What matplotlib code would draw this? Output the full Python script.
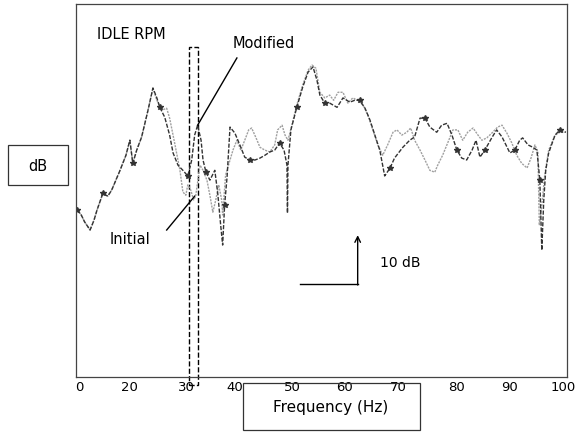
import numpy as np
import matplotlib
matplotlib.use("Agg")
import matplotlib.pyplot as plt
from matplotlib.patches import Rectangle

# shared start of both spectra (x in plot units 0-100, y in dB above bottom)
common_x = [0.2, 1.0, 1.8, 2.9, 3.7, 4.3, 5.5, 6.5, 7.3, 9.0, 10.2, 11.0, 11.6,
            12.4, 13.4, 14.7, 15.7]
common_y = [35.5, 34.7, 33.0, 31.3, 33.4, 35.5, 39.1, 38.5, 39.8, 44.0, 47.2,
            50.4, 45.5, 48.3, 51.1, 56.8, 61.5]

mod_x = [16.5, 17.1, 18.1, 19.1, 19.8, 20.8, 21.8, 22.8, 23.6, 24.2, 24.8, 25.5,
         25.9, 26.5, 27.3, 28.3, 28.9, 29.5, 29.9, 30.3, 30.8, 31.4, 32.4, 33.4,
         34.4, 35.4, 36.5, 37.5, 38.5, 39.5, 40.5, 41.5, 42.4, 43.0, 43.1, 43.2,
         43.8, 45.0, 46.2, 47.3, 48.3, 49.1, 49.7, 50.7, 51.7, 53.2, 54.4, 55.8,
         56.8, 57.8, 58.9, 59.9, 60.9, 61.9, 62.9, 64.0, 64.9, 66.6, 68.0, 69.0,
         70.1, 71.1, 72.1, 73.5, 74.5, 75.6, 76.6, 77.6, 78.6, 79.6, 80.7, 81.5,
         82.3, 83.3, 84.7, 85.7, 86.8, 87.6, 88.4, 89.4, 90.4, 91.0, 92.1, 93.1,
         93.9, 94.5, 94.9, 95.3, 95.7, 96.3, 97.6, 98.6, 99.8]
mod_y = [59.4, 57.4, 55.3, 51.5, 47.7, 45.1, 44.0, 42.8, 46.2, 51.5, 53.6, 50.4,
         46.2, 43.6, 41.9, 44.0, 39.1, 32.3, 28.1, 36.6, 42.6, 53.2, 51.9, 49.4,
         46.8, 46.2, 46.2, 46.6, 47.2, 47.9, 48.3, 49.8, 48.3, 45.1, 34.9, 45.1,
         52.6, 57.4, 61.7, 64.9, 66.0, 63.2, 60.0, 58.3, 58.3, 57.4, 59.4, 58.5,
         58.9, 58.9, 57.2, 54.7, 51.5, 48.3, 42.8, 44.5, 46.6, 48.9, 50.4, 51.1,
         55.1, 55.1, 53.2, 52.1, 53.6, 54.0, 51.5, 48.3, 46.6, 46.2, 48.3, 50.4,
         46.8, 48.3, 50.9, 52.6, 51.1, 49.4, 47.7, 48.3, 50.4, 50.9, 49.4, 48.9,
         48.3, 41.9, 27.0, 37.7, 44.0, 47.7, 51.5, 52.6, 52.1]

init_x = [16.5, 17.5, 18.5, 19.1, 20.2, 21.2, 21.8, 22.4, 22.8, 23.4, 24.0, 24.4,
          25.3, 25.9, 26.7, 27.3, 27.9, 28.5, 29.1, 29.7, 29.9, 30.5, 31.4, 32.0,
          32.8, 33.6, 34.4, 35.2, 35.8, 36.7, 37.5, 38.5, 39.5, 40.5, 41.1, 42.0,
          42.6, 43.2, 44.0, 45.0, 46.2, 47.3, 48.1, 48.9, 49.7, 50.7, 51.7, 52.5,
          53.4, 54.4, 55.4, 56.4, 57.4, 58.5, 59.5, 60.5, 61.5, 62.5, 63.5, 64.6,
          65.4, 66.4, 67.4, 68.2, 69.0, 70.1, 71.1, 72.1, 73.1, 73.7, 74.7, 75.8,
          76.8, 77.8, 78.8, 79.8, 80.9, 81.9, 82.7, 83.7, 84.9, 85.9, 86.8, 87.8,
          88.8, 89.8, 90.8, 91.9, 92.7, 93.5, 94.1, 94.4, 94.9, 95.5, 96.3, 97.6,
          98.6, 99.8]
init_y = [58.9, 56.8, 57.2, 55.1, 49.4, 44.0, 39.4, 38.7, 40.9, 39.8, 37.7, 38.5,
          45.1, 44.0, 41.9, 38.7, 35.1, 37.7, 40.9, 37.7, 34.5, 43.0, 46.2, 48.3,
          50.4, 48.3, 50.4, 52.6, 53.0, 50.9, 48.9, 48.3, 47.9, 49.4, 52.6, 53.6,
          51.5, 50.4, 53.6, 57.9, 62.1, 65.3, 66.4, 65.7, 60.6, 59.4, 60.0, 58.9,
          60.6, 60.6, 58.3, 59.4, 58.9, 57.9, 55.7, 52.6, 49.4, 47.2, 49.4, 52.1,
          52.6, 51.5, 52.1, 53.0, 50.4, 48.3, 46.2, 44.0, 43.6, 45.1, 47.2, 50.0,
          52.6, 52.6, 50.4, 52.1, 53.0, 51.5, 50.4, 50.9, 52.1, 53.2, 53.6, 51.9,
          49.8, 47.2, 45.5, 44.5, 46.6, 49.4, 47.9, 32.3, 36.6, 43.0, 48.3, 51.5,
          52.1, 52.1]

tick_pos = [0.8, 11.0, 22.6, 32.4, 44.2, 54.8, 65.6, 77.6, 88.4, 99.2]
tick_labels = ["0", "20", "30", "40", "50", "60", "70", "80", "90", "100"]

fig = plt.figure(figsize=(5.79, 4.36), dpi=100)
ax = fig.add_axes([0.131, 0.135, 0.848, 0.856])

ax.plot(common_x + init_x, common_y + init_y, color="#a0a0a0", lw=1.0,
        ls=(0, (1.5, 0.8)))
ax.plot(common_x + mod_x, common_y + mod_y, color="#333333", lw=1.0,
        ls=(0, (3, 1.2)), marker="*", ms=4, markevery=6)

ax.set_xlim(0, 100)
ax.set_ylim(0, 79.4)
ax.set_xticks(tick_pos)
ax.set_xticklabels(tick_labels, fontsize=9.5)
ax.tick_params(axis="x", length=0, pad=3)
ax.set_yticks([])
for s in ax.spines.values():
    s.set_linewidth(0.9)
    s.set_color("#444444")

# idle rpm dashed band
ax.add_patch(Rectangle((23.0, -1.7), 1.8, 71.9, fill=False, ls="--", lw=1.0,
                       ec="black", clip_on=False))
ax.text(4.3, 73.0, "IDLE RPM", fontsize=10.5, va="center")

# labels with pointer lines
ax.text(32.0, 71.0, "Modified", fontsize=10.5, va="center")
ax.plot([32.8, 24.8], [67.9, 53.6], color="black", lw=1.0)
ax.text(6.8, 29.2, "Initial", fontsize=10.5, va="center")
ax.plot([18.5, 24.2], [31.3, 38.5], color="black", lw=1.0)

# 10 dB scale bar
ax.plot([45.6, 57.4], [19.8, 19.8], color="black", lw=1.0)
ax.annotate("", xy=(57.4, 30.2), xytext=(57.4, 19.6),
            arrowprops=dict(arrowstyle="->", lw=1.0, color="black",
                            shrinkA=0, shrinkB=0))
ax.text(62.0, 24.3, "10 dB", fontsize=10, va="center")

# boxed axis labels
fig.add_artist(Rectangle((8 / 579, 1 - 185 / 436), 60 / 579, 40 / 436,
                         fill=False, lw=0.9, ec="#333333",
                         transform=fig.transFigure))
fig.text(38 / 579, 1 - 166 / 436, "dB", fontsize=10.5, ha="center", va="center")
fig.add_artist(Rectangle((243 / 579, 1 - 430 / 436), 177 / 579, 47 / 436,
                         fill=False, lw=0.9, ec="#333333",
                         transform=fig.transFigure))
fig.text(331 / 579, 1 - 407 / 436, "Frequency (Hz)", fontsize=11,
         ha="center", va="center")

fig.savefig("out.png", dpi=100)
